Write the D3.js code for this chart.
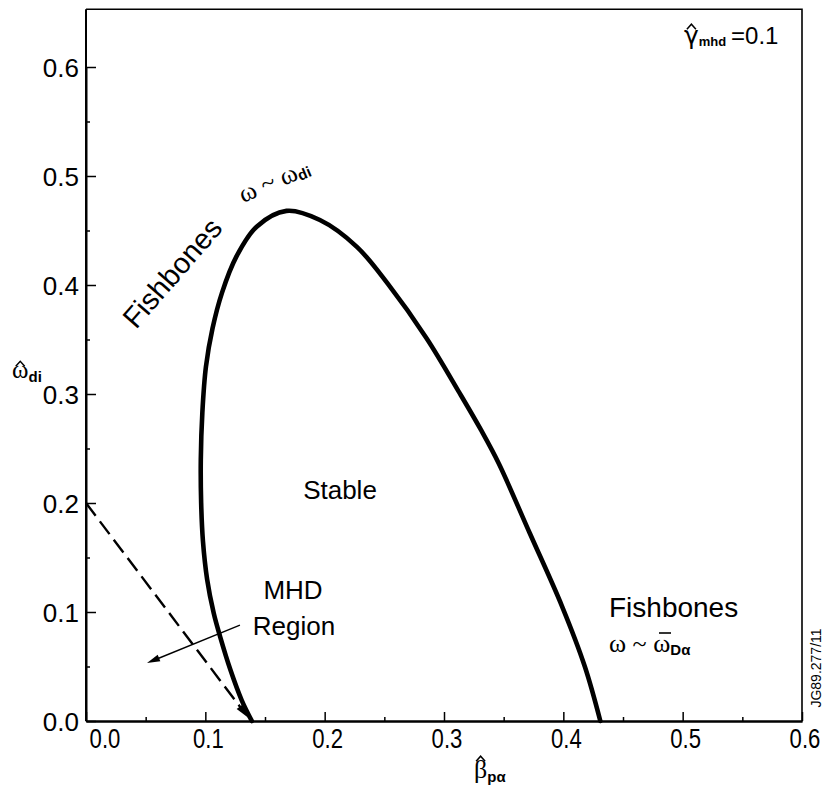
<!DOCTYPE html>
<html>
<head>
<meta charset="utf-8">
<script src="https://cdn.jsdelivr.net/npm/d3@7"></script>
<style>
  html, body { margin: 0; padding: 0; background: #fff; }
  svg { display: block; }
  text { fill: #000; }
</style>
</head>
<body>
<svg id="chart" width="823" height="791"></svg>
<script>
// Marginal-stability boundary of the fishbone mode (traced from foot to foot)
const boundaryBeta  = [0.139, 0.1305, 0.121, 0.1125, 0.107, 0.1015, 0.098, 0.0965, 0.0962, 0.0975,
                       0.1005, 0.106, 0.114, 0.126, 0.143, 0.168, 0.196, 0.227, 0.253, 0.2855,
                       0.313, 0.331, 0.346, 0.372, 0.399, 0.418, 0.431];
const boundaryOmega = [0.000, 0.019, 0.047, 0.077, 0.099, 0.130, 0.165, 0.200, 0.240, 0.283,
                       0.325, 0.360, 0.393, 0.426, 0.4535, 0.468, 0.4596, 0.435, 0.401, 0.351,
                       0.301, 0.267, 0.236, 0.172, 0.105, 0.050, 0.000];

// Ideal-MHD limit (dashed line)
const mhdLimitBeta  = [0.0, 0.136];
const mhdLimitOmega = [0.2, 0.003];

// Arrow pointing into the MHD region
const mhdArrowBeta  = [0.129, 0.0511];
const mhdArrowOmega = [0.088, 0.0532];

const xTicks = [0.0, 0.1, 0.2, 0.3, 0.4, 0.5, 0.6];
const yTicks = [0.0, 0.1, 0.2, 0.3, 0.4, 0.5, 0.6];
const xMinorTicks = [0.05, 0.15, 0.25, 0.35, 0.45, 0.55];
const yMinorTicks = [0.05, 0.15, 0.25, 0.35, 0.45, 0.55];
const tickLabels = ["0.0", "0.1", "0.2", "0.3", "0.4", "0.5", "0.6"];

const SANS = "'Liberation Sans', Arial, Helvetica, sans-serif";
const SERIF = "'Liberation Serif', 'Times New Roman', serif";

const svg = d3.select("#chart");
const x = d3.scaleLinear().domain([0, 0.6]).range([86, 802]);
const y = d3.scaleLinear().domain([0, 0.6]).range([721, 67]);
const yTop = y(0.653);

// Frame
svg.append("path")
  .attr("d", `M${x(0)},${yTop} L${x(0.6)},${yTop} L${x(0.6)},${y(0)}`)
  .attr("fill", "none").attr("stroke", "#000").attr("stroke-width", 1.6);

// Axes with inward ticks
const gx = svg.append("g").attr("transform", `translate(0,${y(0)})`)
  .call(d3.axisBottom(x).tickValues(xTicks).tickSize(-9).tickSizeOuter(0).tickFormat(""));
const gxm = svg.append("g").attr("transform", `translate(0,${y(0)})`)
  .call(d3.axisBottom(x).tickValues(xMinorTicks).tickSize(-4).tickSizeOuter(0).tickFormat(""));
const gy = svg.append("g").attr("transform", `translate(${x(0)},0)`)
  .call(d3.axisLeft(y).tickValues(yTicks).tickSize(-10).tickSizeOuter(0).tickFormat(""));
const gym = svg.append("g").attr("transform", `translate(${x(0)},0)`)
  .call(d3.axisLeft(y).tickValues(yMinorTicks).tickSize(-4).tickSizeOuter(0).tickFormat(""));
[gx, gxm, gy, gym].forEach(g => {
  g.selectAll("path.domain").attr("stroke", "#000").attr("stroke-width", 2);
  g.selectAll(".tick line").attr("stroke", "#000").attr("stroke-width", 1.5);
});
gy.select("path.domain").attr("d", `M0,${yTop}V${y(0)}`);

// Tick labels
svg.append("g").selectAll("text").data(yTicks).join("text")
  .attr("x", x(0) - 7).attr("y", d => y(d) + 10)
  .attr("text-anchor", "end")
  .attr("font-family", SANS).attr("font-size", 26)
  .text((d, i) => tickLabels[i]);

svg.append("g").selectAll("text").data(xTicks).join("text")
  .attr("transform", (d, i) => `translate(${x(d) + (i === 0 ? 19 : 3)},748) scale(0.82,1)`)
  .attr("text-anchor", "middle")
  .attr("font-family", SANS).attr("font-size", 27)
  .text((d, i) => tickLabels[i]);

// Small caret drawn above the first glyph of a text element
function caretOver(textSel, lift) {
  const r = textSel.node().getExtentOfChar(0);
  const cx = r.x + r.width / 2;
  const top = r.y + r.height * 0.42 - lift;
  svg.append("path")
    .attr("d", `M${cx - 4.5},${top} L${cx},${top - 5} L${cx + 4.5},${top}`)
    .attr("fill", "none").attr("stroke", "#000").attr("stroke-width", 1.5);
}

// Symbol with a bold sans subscript
function symbolText(px, py, main, sub, mainFont, mainSize, subSize, subDy) {
  const t = svg.append("text").attr("x", px).attr("y", py);
  t.append("tspan").attr("font-family", mainFont).attr("font-size", mainSize).text(main);
  t.append("tspan").attr("font-family", SANS).attr("font-weight", "bold")
    .attr("font-size", subSize).attr("dy", subDy).text(sub);
  return t;
}

// Axis titles
caretOver(symbolText(12, 378, "\u03C9", "di", SERIF, 25, 15, 4), 1);
caretOver(symbolText(474, 778, "\u03B2", "p\u03B1", SERIF, 26, 15, 4), 6);

// Stability boundary
const line = d3.line().curve(d3.curveCatmullRom.alpha(0.5));
svg.append("path")
  .datum(boundaryBeta.map((b, i) => [x(b), y(boundaryOmega[i])]))
  .attr("d", line)
  .attr("fill", "none").attr("stroke", "#000").attr("stroke-width", 4.6)
  .attr("stroke-linecap", "round").attr("stroke-linejoin", "round");

// Arrowhead helper
function arrowHead(p0, p1, len, half) {
  const dx = p1[0] - p0[0], dy = p1[1] - p0[1];
  const L = Math.hypot(dx, dy), ux = dx / L, uy = dy / L;
  const bx = p1[0] - ux * len, by = p1[1] - uy * len;
  return `M${p1[0]},${p1[1]} L${bx - uy * half},${by + ux * half} L${bx + uy * half},${by - ux * half} Z`;
}

// Dashed MHD limit
const d0 = [x(mhdLimitBeta[0]), y(mhdLimitOmega[0])];
const d1 = [x(mhdLimitBeta[1]), y(mhdLimitOmega[1])];
const dl = Math.hypot(d1[0] - d0[0], d1[1] - d0[1]);
const shaft = [d0, [d0[0] + (d1[0] - d0[0]) * (dl - 10) / dl, d0[1] + (d1[1] - d0[1]) * (dl - 10) / dl]];
svg.append("path").attr("d", d3.line()(shaft))
  .attr("fill", "none").attr("stroke", "#000").attr("stroke-width", 2.4)
  .attr("stroke-dasharray", "16,7");
svg.append("path").attr("d", arrowHead(d0, d1, 14, 4)).attr("fill", "#000");

// MHD region arrow
const a0 = [x(mhdArrowBeta[0]), y(mhdArrowOmega[0])];
const a1 = [x(mhdArrowBeta[1]), y(mhdArrowOmega[1])];
svg.append("line").attr("x1", a0[0]).attr("y1", a0[1])
  .attr("x2", a1[0] + (a0[0] - a1[0]) * 0.08).attr("y2", a1[1] + (a0[1] - a1[1]) * 0.08)
  .attr("stroke", "#000").attr("stroke-width", 1.4);
svg.append("path").attr("d", arrowHead(a0, a1, 13, 3.5)).attr("fill", "#000");

// Region labels
svg.append("text").attr("x", 340).attr("y", 499).attr("text-anchor", "middle")
  .attr("font-family", SANS).attr("font-size", 26).text("Stable");
svg.append("text").attr("x", 293).attr("y", 599).attr("text-anchor", "middle")
  .attr("font-family", SANS).attr("font-size", 26).text("MHD");
svg.append("text").attr("x", 294).attr("y", 635).attr("text-anchor", "middle")
  .attr("font-family", SANS).attr("font-size", 26).text("Region");

svg.append("text").attr("transform", "translate(136,330) rotate(-49)")
  .attr("font-family", SANS).attr("font-size", 29).text("Fishbones");

// ω ~ ω_di above the peak of the boundary
const gdi = svg.append("g").attr("transform", "translate(243,203) rotate(-23)");
const tdi = gdi.append("text");
tdi.append("tspan").attr("font-family", SERIF).attr("font-size", 26).text("\u03C9 ~ \u03C9");
tdi.append("tspan").attr("font-family", SANS).attr("font-weight", "bold").attr("font-size", 15)
  .attr("dy", 2).text("di");

svg.append("text").attr("x", 609).attr("y", 617)
  .attr("font-family", SANS).attr("font-size", 28).text("Fishbones");
const tda = svg.append("text").attr("x", 609).attr("y", 652);
tda.append("tspan").attr("font-family", SERIF).attr("font-size", 26).text("\u03C9 ~ \u03C9");
tda.append("tspan").attr("font-family", SANS).attr("font-weight", "bold").attr("font-size", 15)
  .attr("dy", 3).text("D\u03B1");
svg.append("line").attr("x1", 659).attr("x2", 671).attr("y1", 633).attr("y2", 633)
  .attr("stroke", "#000").attr("stroke-width", 1.6);

// Growth-rate annotation
const tg = svg.append("text").attr("x", 684).attr("y", 44);
tg.append("tspan").attr("font-family", "'DejaVu Sans', sans-serif").attr("font-size", 25).text("\u03B3");
tg.append("tspan").attr("font-family", SANS).attr("font-weight", "bold").attr("font-size", 13)
  .attr("dy", 2).text("mhd");
tg.append("tspan").attr("font-family", SANS).attr("font-size", 24).attr("dy", -2).text("\u2009=0.1");
caretOver(tg, 4);

// Figure reference
svg.append("text").attr("transform", "translate(821,668) rotate(-90)")
  .attr("text-anchor", "middle")
  .attr("font-family", SANS).attr("font-size", 14).text("JG89.277/11");
</script>
</body>
</html>
